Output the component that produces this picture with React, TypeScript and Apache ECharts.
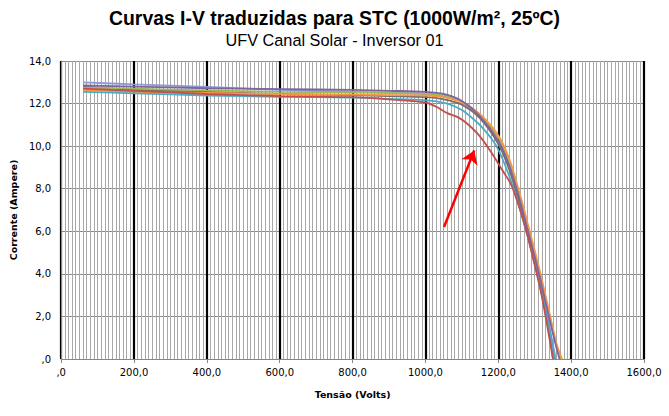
import React, { useEffect, useRef } from "react";
import * as echarts from "echarts";

const xTicks = [0, 200, 400, 600, 800, 1000, 1200, 1400, 1600];
const yTicks = [0, 2, 4, 6, 8, 10, 12, 14];

const curvaLavanda: number[][] = [
  [60, 13.0], [200, 12.9], [400, 12.78], [600, 12.65], [800, 12.55], [900, 12.5], [1000, 12.45],
  [1050, 12.35], [1100, 12.05], [1150, 11.35], [1200, 10.15], [1230, 9.0], [1260, 7.3],
  [1280, 6.0], [1300, 4.6], [1320, 3.1], [1340, 1.5], [1358, 0],
];
const curvaRoxa: number[][] = [
  [60, 12.85], [200, 12.8], [400, 12.72], [600, 12.68], [800, 12.64], [900, 12.6], [1000, 12.55],
  [1050, 12.45], [1100, 12.12], [1150, 11.4], [1200, 10.25], [1230, 9.1], [1260, 7.4],
  [1280, 6.1], [1300, 4.8], [1320, 3.4], [1340, 1.9], [1360, 0.5], [1368, 0],
];
const curvaCinza: number[][] = [
  [60, 12.8], [200, 12.65], [400, 12.55], [600, 12.45], [800, 12.4], [900, 12.35], [1000, 12.3],
  [1050, 12.2], [1100, 11.95], [1150, 11.3], [1200, 10.1], [1230, 8.9], [1260, 7.2],
  [1280, 5.9], [1300, 4.5], [1320, 3.0], [1340, 1.4], [1350, 0],
];
const curvaVerde: number[][] = [
  [60, 12.75], [200, 12.7], [400, 12.62], [600, 12.55], [800, 12.52], [900, 12.5], [1000, 12.47],
  [1050, 12.38], [1100, 12.1], [1150, 11.45], [1200, 10.4], [1230, 9.3], [1260, 7.6],
  [1280, 6.3], [1300, 5.0], [1320, 3.6], [1340, 2.1], [1360, 0.6], [1372, 0],
];
const curvaLaranja: number[][] = [
  [60, 12.65], [200, 12.55], [400, 12.5], [600, 12.45], [800, 12.42], [900, 12.4], [1000, 12.38],
  [1050, 12.3], [1100, 12.05], [1150, 11.5], [1200, 10.5], [1230, 9.4], [1260, 7.7],
  [1280, 6.4], [1300, 5.1], [1320, 3.7], [1340, 2.2], [1360, 0.7], [1375, 0],
];
const curvaCiano: number[][] = [
  [60, 12.55], [200, 12.48], [400, 12.38], [600, 12.32], [800, 12.28], [900, 12.22], [1000, 12.15],
  [1060, 12.0], [1100, 11.7], [1130, 11.3], [1160, 10.8], [1195, 10.0], [1230, 8.6], [1260, 7.0],
  [1280, 5.8], [1300, 4.5], [1320, 3.1], [1340, 1.5], [1355, 0],
];
const curvaVermelha: number[][] = [
  [60, 12.7], [200, 12.6], [400, 12.45], [600, 12.35], [800, 12.3], [900, 12.2], [1000, 12.05],
  [1030, 11.85], [1060, 11.55], [1090, 11.35], [1115, 11.05], [1150, 10.45], [1185, 9.6],
  [1210, 8.9], [1235, 8.2], [1260, 7.0], [1280, 5.8], [1300, 4.4], [1320, 2.9], [1340, 1.0], [1350, 0],
];

const seta = { de: [1051, 6.2], para: [1134, 9.8] };

const seriesDefs = [
  { nome: "Lavanda", dados: curvaLavanda, cor: "#8E9AD6" },
  { nome: "Cinza", dados: curvaCinza, cor: "#7A6E6A" },
  { nome: "Verde", dados: curvaVerde, cor: "#9BBB59" },
  { nome: "Laranja", dados: curvaLaranja, cor: "#F79646" },
  { nome: "Ciano", dados: curvaCiano, cor: "#4BACC6" },
  { nome: "Roxa", dados: curvaRoxa, cor: "#8064A2" },
  { nome: "Vermelha", dados: curvaVermelha, cor: "#C0504D" },
];

const fmt = (v: number) => (v === 0 ? ",0" : v.toFixed(1).replace(".", ","));

export default function App() {
  const ref = useRef<HTMLDivElement>(null);
  useEffect(() => {
    if (!ref.current) return;
    const chart = echarts.init(ref.current, null, { renderer: "svg" });
    const series: any[] = seriesDefs.map((s) => ({
      name: s.nome,
      type: "line",
      data: s.dados,
      smooth: 0.3,
      showSymbol: false,
      lineStyle: { color: s.cor, width: 1.8 },
      itemStyle: { color: s.cor },
    }));
    series.push({
      name: "Seta",
      type: "line",
      data: [seta.de, seta.para],
      showSymbol: false,
      symbol: "none",
      lineStyle: { opacity: 0 },
      itemStyle: { color: "#FF0000" },
      markLine: {
        silent: true,
        animation: false,
        symbol: ["none", "arrow"],
        symbolSize: 13,
        label: { show: false },
        itemStyle: { color: "#FF0000" },
        lineStyle: { color: "#FF0000", width: 2.5, type: "solid" },
        data: [[{ coord: seta.de }, { coord: seta.para }]],
      },
    });
    chart.setOption({
      animation: false,
      backgroundColor: "#ffffff",
      title: [
        {
          text: "Curvas I-V traduzidas para STC (1000W/m², 25ºC)",
          left: "center",
          top: 3,
          textStyle: {
            fontFamily: "'Liberation Sans Narrow', 'Liberation Sans', Arial, sans-serif",
            fontWeight: "bold",
            fontSize: 19.4,
            color: "#000",
          },
        },
        {
          text: "UFV Canal Solar - Inversor 01",
          left: "center",
          top: 27,
          textStyle: {
            fontFamily: "'Liberation Sans Narrow', 'Liberation Sans', Arial, sans-serif",
            fontWeight: "normal",
            fontSize: 16.3,
            color: "#000",
          },
        },
      ],
      grid: { left: 59, right: 25, top: 61, bottom: 57, containLabel: false },
      xAxis: {
        type: "value",
        min: xTicks[0],
        max: xTicks[xTicks.length - 1],
        interval: 200,
        name: "Tensão (Volts)",
        nameLocation: "middle",
        nameGap: 30,
        nameTextStyle: { fontFamily: "'DejaVu Sans', sans-serif", fontWeight: "bold", fontSize: 9.5, color: "#000" },
        axisLine: { show: true, lineStyle: { color: "#868686", width: 1 } },
        axisTick: { show: true, length: 4, lineStyle: { color: "#868686" } },
        axisLabel: { formatter: fmt, fontFamily: "'DejaVu Sans', sans-serif", fontSize: 10, color: "#000", margin: 8 },
        splitLine: { show: true, lineStyle: { color: "#000", width: 2.2 } },
        minorTick: { show: false, splitNumber: 20 },
        minorSplitLine: { show: true, lineStyle: { color: "#a8a8a8", width: 1 } },
      },
      yAxis: {
        type: "value",
        min: yTicks[0],
        max: yTicks[yTicks.length - 1],
        interval: 2,
        name: "Corrente (Ampere)",
        nameLocation: "middle",
        nameGap: 36,
        nameTextStyle: { fontFamily: "'DejaVu Sans', sans-serif", fontWeight: "bold", fontSize: 9.5, color: "#000" },
        axisLine: { show: true, lineStyle: { color: "#868686", width: 1 } },
        axisTick: { show: false },
        axisLabel: { formatter: fmt, fontFamily: "'DejaVu Sans', sans-serif", fontSize: 10, color: "#000", margin: 10 },
        splitLine: { show: true, lineStyle: { color: "#8c8c8c", width: 1 } },
      },
      series,
    });
    return () => chart.dispose();
  }, []);
  return <div ref={ref} style={{ width: 669, height: 416, position: "absolute", left: 0, top: 0 }} />;
}
